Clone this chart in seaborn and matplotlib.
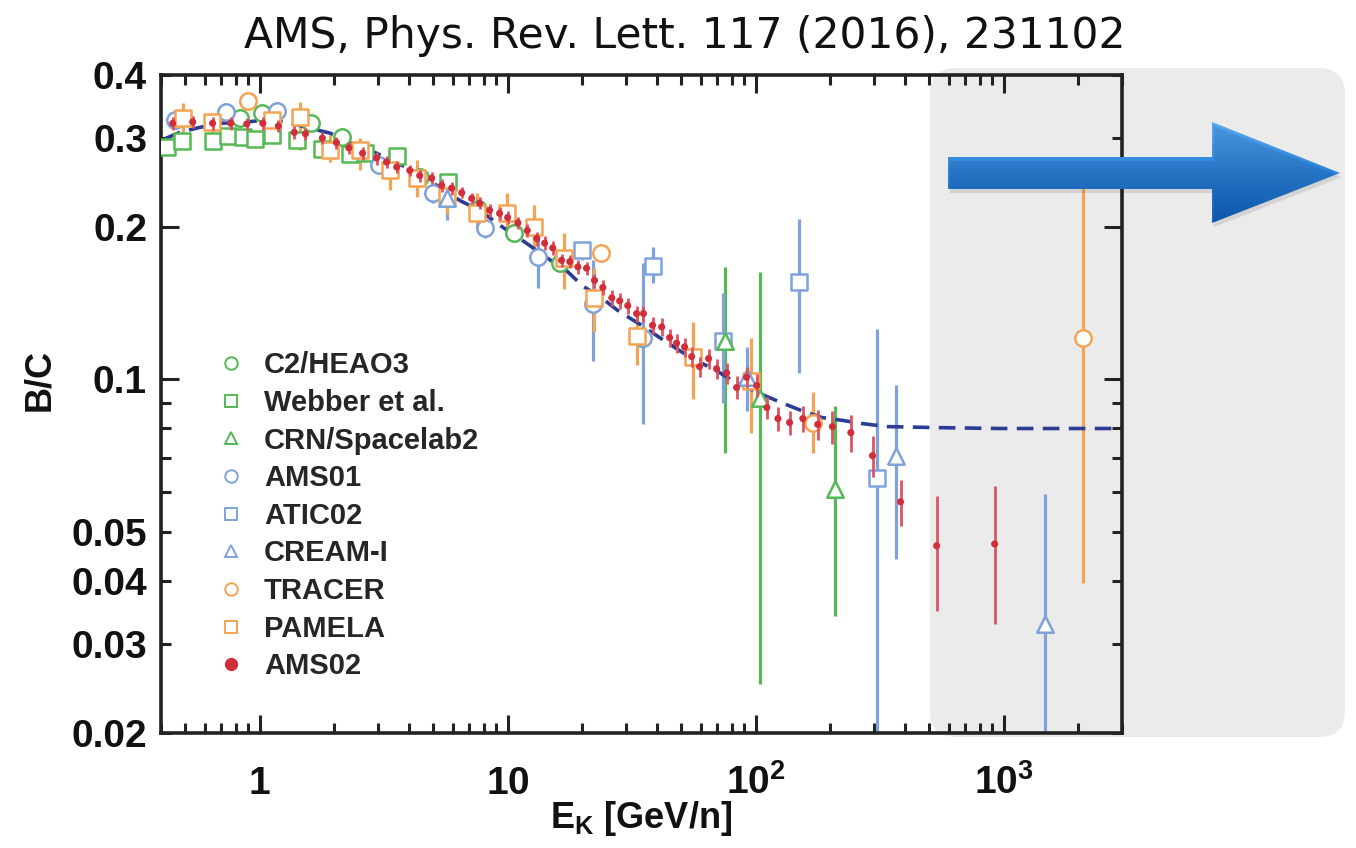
import numpy as np
import matplotlib
matplotlib.use("Agg")
import matplotlib.pyplot as plt
import matplotlib.ticker as mticker
import seaborn as sns
from matplotlib.lines import Line2D
from matplotlib.patches import FancyBboxPatch, Polygon
from matplotlib.colors import LinearSegmentedColormap

# ---------------- data ----------------
ams02_x = [0.446, 0.537, 0.646, 0.764, 0.887, 1.03, 1.19, 1.38, 1.53, 1.79,
           2.04, 2.29, 2.60, 2.96, 3.25, 3.57, 4.03, 4.42, 4.94, 5.42,
           5.95, 6.53, 7.16, 7.71, 8.46, 9.28, 10.0, 11.0, 12.0, 13.1,
           14.1, 15.2, 16.5, 17.8, 19.2, 20.8, 22.4, 24.2, 26.3, 28.3,
           30.5, 33.1, 35.3, 38.4, 41.8, 45.0, 48.0, 51.7, 55.2, 59.4,
           64.6, 69.6, 76.4, 83.8, 92.0, 101, 111, 123, 137, 155,
           178, 204, 242, 296, 384, 537, 920]
ams02_y = [0.321, 0.323, 0.321, 0.321, 0.320, 0.321, 0.317, 0.308, 0.306, 0.300,
           0.294, 0.287, 0.280, 0.274, 0.269, 0.263, 0.259, 0.253, 0.250, 0.242,
           0.239, 0.234, 0.228, 0.223, 0.216, 0.213, 0.209, 0.204, 0.197, 0.190,
           0.186, 0.182, 0.172, 0.171, 0.167, 0.166, 0.157, 0.152, 0.145, 0.143,
           0.140, 0.135, 0.135, 0.128, 0.127, 0.121, 0.118, 0.116, 0.111, 0.106,
           0.110, 0.105, 0.103, 0.0964, 0.101, 0.0973, 0.0880, 0.0837, 0.0822, 0.0837,
           0.0815, 0.0807, 0.0785, 0.0707, 0.0573, 0.0469, 0.0473]
ams02_err = [0.010, 0.009, 0.009, 0.009, 0.009, 0.009, 0.009, 0.009, 0.008, 0.008,
             0.008, 0.008, 0.008, 0.008, 0.007, 0.007, 0.007, 0.007, 0.007, 0.007,
             0.007, 0.006, 0.006, 0.006, 0.006, 0.006, 0.006, 0.006, 0.006, 0.006,
             0.006, 0.006, 0.005, 0.005, 0.005, 0.005, 0.005, 0.005, 0.005, 0.005,
             0.005, 0.005, 0.005, 0.005, 0.005, 0.005, 0.005, 0.005, 0.005, 0.005,
             0.005, 0.005, 0.005, 0.005, 0.005, 0.005, 0.0045, 0.0045, 0.0045, 0.005,
             0.0055, 0.006, 0.0065, 0.0065, 0.006, 0.012, 0.0144]

heao_x = [0.830, 1.02, 1.61, 2.14, 4.42, 7.57, 10.6, 16.2, 34.7]
heao_y = [0.329, 0.336, 0.321, 0.301, 0.251, 0.217, 0.195, 0.170, 0.121]

webber_x = [0.422, 0.485, 0.646, 0.743, 0.854, 0.955, 1.12, 1.41, 1.79, 2.31, 2.65, 3.57, 5.73]
webber_y = [0.288, 0.296, 0.296, 0.303, 0.301, 0.299, 0.304, 0.297, 0.285, 0.279, 0.280, 0.277, 0.246]

crn_x = [75.0, 104, 208]
crn_y = [0.119, 0.0921, 0.0608]
crn_lo = [0.0714, 0.025, 0.0341]
crn_hi = [0.167, 0.163, 0.0888]

ams01_x = [0.454, 0.729, 1.17, 3.02, 4.99, 8.08, 13.2, 22.0, 35.3]
ams01_y = [0.326, 0.338, 0.340, 0.265, 0.234, 0.199, 0.175, 0.141, 0.121]
ams01_lo = [0.320, 0.331, 0.333, 0.258, 0.223, 0.190, 0.152, 0.109, 0.0818]
ams01_hi = [0.332, 0.345, 0.347, 0.272, 0.242, 0.208, 0.197, 0.172, 0.170]

atic_x = [19.9, 38.4, 73.6, 150, 310]
atic_y = [0.180, 0.168, 0.119, 0.156, 0.064]
atic_lo = [0.172, 0.155, 0.090, 0.103, 0.015]
atic_hi = [0.187, 0.183, 0.148, 0.208, 0.126]

cream_x = [5.68, 92, 367, 1463]
cream_y = [0.228, 0.101, 0.0707, 0.0329]
cream_lo = [0.207, 0.0868, 0.0442, 0.015]
cream_hi = [0.239, 0.116, 0.0973, 0.0594]

tracer_x = [0.894, 23.7, 170, 2083]
tracer_y = [0.355, 0.178, 0.0822, 0.121]
tracer_lo = [0.343, 0.172, 0.0714, 0.0396]
tracer_hi = [0.368, 0.183, 0.0943, 0.265]

pamela_x = [0.489, 0.640, 1.12, 1.45, 1.92, 2.53, 3.34, 4.30, 5.68, 7.50,
            9.91, 12.8, 16.8, 22.2, 33.1, 55.7, 95.4]
pamela_y = [0.329, 0.323, 0.326, 0.330, 0.284, 0.284, 0.259, 0.250, 0.231, 0.213,
            0.213, 0.200, 0.174, 0.145, 0.122, 0.111, 0.0995]
pamela_lo = [0.307, 0.301, 0.297, 0.284, 0.269, 0.259, 0.237, 0.229, 0.212, 0.199,
             0.191, 0.183, 0.151, 0.124, 0.107, 0.0917, 0.0785]
pamela_hi = [0.352, 0.336, 0.346, 0.354, 0.304, 0.300, 0.278, 0.271, 0.243, 0.234,
             0.234, 0.221, 0.195, 0.166, 0.137, 0.130, 0.121]

model_x = [0.414, 0.476, 0.573, 0.690, 0.887, 1.07, 1.28, 1.55, 1.92, 2.31,
           2.78, 3.44, 4.30, 5.32, 6.40, 7.71, 9.55, 11.9, 14.4, 17.3,
           20.1, 23.9, 28.3, 34.7, 41.0, 49.4, 57.8, 69.6, 80.8, 104,
           127, 153, 185, 224, 270, 337, 552, 964, 3000]
model_y = [0.299, 0.308, 0.315, 0.321, 0.323, 0.326, 0.323, 0.315, 0.307, 0.294,
           0.284, 0.271, 0.256, 0.240, 0.226, 0.216, 0.200, 0.186, 0.174, 0.164,
           0.153, 0.145, 0.136, 0.128, 0.121, 0.114, 0.109, 0.104, 0.0995, 0.0938,
           0.0900, 0.0868, 0.0841, 0.0830, 0.0818, 0.0807, 0.0803, 0.0800, 0.0800]

legend_labels = ["C2/HEAO3", "Webber et al.", "CRN/Spacelab2", "AMS01", "ATIC02",
                 "CREAM-I", "TRACER", "PAMELA", "AMS02"]

xtick_vals = [1, 10, 100, 1000]
xtick_labels = [r"$\mathbf{1}$", r"$\mathbf{10}$", r"$\mathbf{10^{2}}$", r"$\mathbf{10^{3}}$"]
ytick_major = [0.1, 0.2]
ytick_major_labels = ["0.1", "0.2"]
ytick_minor = [0.02, 0.03, 0.04, 0.05, 0.06, 0.07, 0.08, 0.09, 0.3, 0.4]
ytick_minor_labels = ["0.02", "0.03", "0.04", "0.05", "", "", "", "", "0.3", "0.4"]

title_text = "AMS, Phys. Rev. Lett. 117 (2016), 231102"

# ---------------- style ----------------
GREEN = "#55b955"
BLUE = "#7fa2da"
ORANGE = "#f4a453"
RED = "#d22d3a"
RED_BAR = "#dc5560"
MODEL = "#2c3c94"
AXC = "#222222"

sns.set_theme(style="ticks")
plt.rcParams["font.family"] = ["Liberation Sans", "DejaVu Sans"]
plt.rcParams["mathtext.fontset"] = "custom"
plt.rcParams["mathtext.rm"] = "Liberation Sans:bold"
plt.rcParams["mathtext.bf"] = "Liberation Sans:bold"
plt.rcParams["mathtext.it"] = "Liberation Sans:bold"

fig = plt.figure(figsize=(13.56, 8.48), dpi=100)
fig.patch.set_facecolor("white")

# grey rounded panel behind the right part
panel = FancyBboxPatch((9.30, 1.11), 4.15, 6.69,
                       boxstyle="round,pad=0,rounding_size=0.26",
                       transform=fig.dpi_scale_trans, facecolor="#ebebeb",
                       edgecolor="none", zorder=-5)
fig.add_artist(panel)

ax = fig.add_axes([0.1187, 0.1356, 0.7087, 0.7760])
ax.set_facecolor("none")
ax.set_xscale("log")
ax.set_yscale("log")

# error bars
def bars(xs, lo, hi, color, lw=2.3, z=2):
    ax.vlines(xs, lo, hi, colors=color, linewidth=lw, zorder=z)

bars(crn_x, crn_lo, crn_hi, GREEN)
bars(ams01_x, ams01_lo, ams01_hi, BLUE)
bars(atic_x, atic_lo, atic_hi, BLUE)
bars(cream_x, cream_lo, cream_hi, BLUE)
bars(tracer_x, tracer_lo, tracer_hi, ORANGE)
bars(pamela_x, pamela_lo, pamela_hi, ORANGE)

# model curve
sns.lineplot(x=model_x, y=model_y, ax=ax, color=MODEL, linewidth=2.6,
             sort=False, estimator=None, zorder=2.5)
ax.lines[-1].set_dashes([4.6, 2.6])

# open markers
def open_pts(xs, ys, marker, color, s=140):
    sns.scatterplot(x=xs, y=ys, marker=marker, s=s, color="white",
                    edgecolor=color, linewidth=1.8, ax=ax, zorder=3, legend=False)

open_pts(webber_x, webber_y, "s", GREEN, 130)
open_pts(heao_x, heao_y, "o", GREEN)
open_pts(ams01_x, ams01_y, "o", BLUE)
open_pts(atic_x, atic_y, "s", BLUE, 130)
open_pts(pamela_x, pamela_y, "s", ORANGE, 130)
open_pts(tracer_x, tracer_y, "o", ORANGE)
open_pts(cream_x, cream_y, "^", BLUE)
open_pts(crn_x, crn_y, "^", GREEN)

# AMS02
ams_lo = [y - e for y, e in zip(ams02_y, ams02_err)]
ams_hi = [y + e for y, e in zip(ams02_y, ams02_err)]
bars(ams02_x, ams_lo, ams_hi, RED_BAR, lw=2.0, z=4)
sns.scatterplot(x=ams02_x, y=ams02_y, marker="o", s=26, color=RED,
                edgecolor="none", linewidth=0, ax=ax, zorder=5, legend=False)

# axes
ax.set_xlim(0.4, 3000)
ax.set_ylim(0.02, 0.4)
ax.set_xticks(xtick_vals, xtick_labels, fontweight="bold", fontsize=28, va="baseline")
ax.xaxis.set_minor_locator(mticker.LogLocator(base=10, subs=np.arange(2, 10) * 1.0, numticks=30))
ax.xaxis.set_minor_formatter(mticker.NullFormatter())
ax.set_yticks(ytick_major, ytick_major_labels, fontweight="bold", fontsize=28)
ax.set_yticks(ytick_minor, ytick_minor_labels, minor=True, fontweight="bold", fontsize=28)

ax.tick_params(which="both", direction="in", top=True, right=True, width=2.2, color=AXC,
               labelcolor="#111111")
ax.tick_params(which="major", length=13)
ax.tick_params(which="minor", length=7)
ax.tick_params(axis="y", which="both", pad=10)
ax.tick_params(axis="x", which="both", pad=44)
for sp in ax.spines.values():
    sp.set_linewidth(2.6)
    sp.set_color(AXC)

ax.set_ylabel("B/C", fontweight="bold", fontsize=26, color="#111111")
ax.yaxis.set_label_coords(-0.108, 0.536)
ax.set_xlabel(r"E$_{\mathbf{K}}$ [GeV/n]", fontweight="bold",
              fontsize=26, color="#111111")
ax.xaxis.set_label_coords(0.5, -0.10)

# legend
leg_colors = [GREEN, GREEN, GREEN, BLUE, BLUE, BLUE, ORANGE, ORANGE, RED]
leg_markers = ["o", "s", "^", "o", "s", "^", "o", "s", "o"]
handles = []
for lab, c, m in zip(legend_labels, leg_colors, leg_markers):
    if lab == "AMS02":
        handles.append(Line2D([], [], ls="none", marker=m, ms=8.5, mfc=c, mec=c))
    else:
        handles.append(Line2D([], [], ls="none", marker=m, ms=9, mfc="white",
                              mec=c, mew=1.4))
ax.legend(handles, legend_labels, loc="upper left", bbox_to_anchor=(0.058, 0.580),
          frameon=False, prop={"weight": "bold", "size": 21}, handlelength=1.0,
          handletextpad=0.62, labelspacing=0.33, borderpad=0, borderaxespad=0)

# title
fig.text(0.505, 0.958, title_text, ha="center", va="center", fontsize=30.5,
         family="DejaVu Sans", color="#111111")

# arrow with gradient
ov = fig.add_axes([0, 0, 1, 1], zorder=10)
ov.set_facecolor("none")
ov.axis("off")
arrow_pts = [(948, 157), (1212, 157), (1212, 122), (1340, 173),
             (1212, 223), (1212, 189), (948, 189)]
shadow = Polygon([(x + 2, y + 4) for x, y in arrow_pts], closed=True,
                 facecolor="#000000", alpha=0.10, edgecolor="none")
ov.add_patch(shadow)
poly = Polygon(arrow_pts, closed=True, facecolor="none", edgecolor="none")
ov.add_patch(poly)
grad = np.linspace(0, 1, 256).reshape(-1, 1)
cmap = LinearSegmentedColormap.from_list("arr", ["#56aaf3", "#2b82dc", "#0f60bd"])
im = ov.imshow(grad, extent=[948, 1340, 223, 122], cmap=cmap, aspect="auto",
               origin="upper", interpolation="bilinear")
im.set_clip_path(poly)
ov.set_xlim(0, 1356)
ov.set_ylim(848, 0)

fig.savefig("out.png", dpi=100, facecolor="white")
